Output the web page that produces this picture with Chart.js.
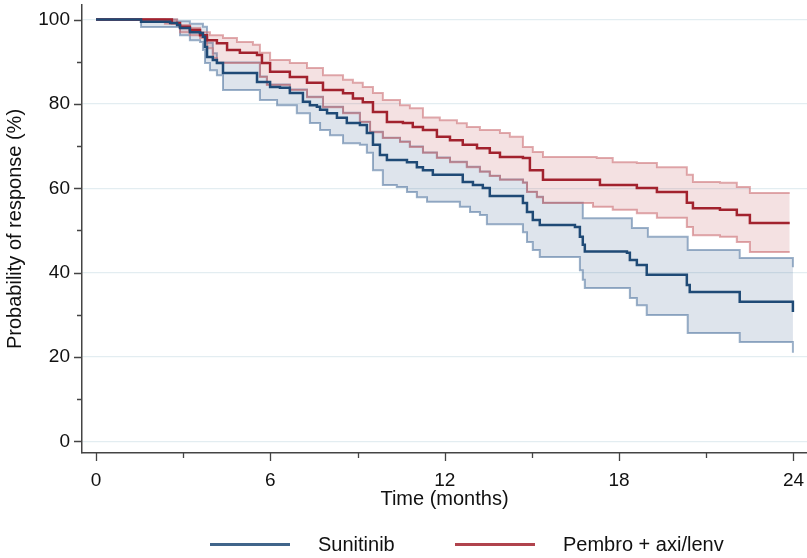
<!DOCTYPE html>
<html>
<head>
<meta charset="utf-8">
<script src="https://cdn.jsdelivr.net/npm/chart.js@4.4.1/dist/chart.umd.min.js"></script>
<style>
body { margin: 0; background: #fff; }
#wrap { position: relative; width: 807px; height: 558px; }
#legend { position: absolute; left: 0; top: 531px; width: 807px; height: 26px; font: 20px "Liberation Sans", Arial, sans-serif; color: #111; }
.item { position: absolute; top: 0; height: 26px; display: flex; align-items: center; }
.swatch { width: 80px; height: 3px; margin-right: 28px; }
</style>
</head>
<body>
<div id="wrap">
  <canvas id="km" width="807" height="558"></canvas>
  <div id="legend"></div>
</div>
<script>
// tick values
const xMajor = [0, 6, 12, 18, 24];
const xMinor = [3, 9, 15, 21];
const yMajor = [0, 20, 40, 60, 80, 100];
const yMinor = [10, 30, 50, 70, 90];

// Sunitinib: survival estimate and 95% CI
const sunTime = [0, 1.55, 2.55, 2.79, 2.89, 3.23, 3.58, 3.68, 3.75, 3.82, 4.02, 4.16, 4.37, 5.54, 5.99, 6.33, 6.67, 7.12, 7.36, 7.6, 7.71, 7.95, 8.29, 8.63, 9.08, 9.32, 9.53, 9.77, 10.01, 10.7, 11.04, 11.25, 11.59, 12.62, 12.97, 13.31, 13.55, 14.69, 14.83, 15.03, 15.27, 16.48, 16.65, 16.75, 16.82, 18.27, 18.37, 18.61, 18.95, 20.33, 20.43, 22.15, 23.98];
const sunSurv = [100, 99.5, 99.2, 98.7, 98.0, 97.0, 96.8, 95.9, 93.5, 91.1, 90.4, 89.7, 87.3, 85.2, 84.0, 83.8, 82.6, 80.5, 79.7, 79.3, 78.6, 77.8, 76.7, 75.5, 75.0, 73.1, 70.3, 67.9, 66.7, 66.2, 65.0, 64.3, 63.2, 61.5, 60.8, 60.1, 58.2, 56.5, 54.4, 52.5, 51.3, 50.8, 48.5, 46.6, 45.0, 44.7, 43.0, 41.8, 39.5, 37.1, 35.4, 33.1, 30.7];
const sunUpTime = [0, 2.79, 3.23, 3.68, 3.82, 4.02, 4.16, 5.64, 5.88, 6.67, 7.26, 7.81, 8.5, 9.08, 9.43, 9.87, 10.46, 10.8, 11.25, 11.73, 12.18, 12.76, 13.21, 13.55, 13.9, 14.69, 14.83, 15.17, 15.38, 16.75, 18.44, 18.99, 20.36, 22.15, 23.98];
const sunUp = [100, 99.6, 99.0, 98.3, 94.5, 92.0, 89.8, 86.5, 84.6, 83.4, 81.7, 79.3, 77.9, 75.8, 73.4, 72.0, 71.1, 69.9, 68.5, 67.3, 66.3, 65.1, 64.0, 63.0, 62.1, 61.4, 59.2, 58.0, 56.6, 52.9, 50.6, 48.5, 45.4, 43.5, 41.3];
const sunLoTime = [0, 1.55, 2.89, 3.23, 3.58, 3.68, 3.75, 3.92, 4.16, 4.37, 5.64, 6.23, 6.91, 7.36, 7.71, 8.05, 8.5, 9.08, 9.32, 9.53, 9.87, 10.35, 10.7, 11.04, 11.39, 12.52, 12.87, 13.21, 13.45, 14.69, 14.83, 15.03, 15.27, 16.65, 16.75, 16.82, 18.37, 18.61, 18.95, 20.36, 22.15, 23.98];
const sunLo = [100, 98.2, 96.3, 95.1, 94.7, 92.8, 89.7, 88.0, 86.8, 83.3, 80.9, 79.7, 77.8, 75.5, 73.8, 72.6, 70.7, 70.3, 68.4, 64.3, 60.8, 60.3, 59.1, 57.9, 56.8, 55.6, 54.4, 53.7, 51.5, 49.6, 47.3, 45.4, 43.7, 40.6, 38.3, 36.4, 34.0, 32.3, 30.0, 25.7, 23.6, 21.0];

// Pembro + axi/lenv: survival estimate and 95% CI
const pemTime = [0, 2.61, 2.89, 3.23, 3.58, 3.82, 4.16, 4.51, 4.95, 5.54, 5.71, 5.99, 6.67, 7.26, 7.81, 8.5, 8.84, 9.18, 9.53, 10.01, 10.56, 10.9, 11.25, 11.73, 12.18, 12.62, 13.11, 13.55, 13.9, 14.69, 14.93, 15.38, 17.34, 18.61, 19.3, 20.33, 20.54, 21.47, 22.05, 22.5, 23.87];
const pemSurv = [100, 99.2, 98.3, 97.5, 96.3, 95.1, 94.4, 92.8, 92.1, 91.6, 89.7, 87.6, 86.4, 85.0, 83.3, 82.5, 81.3, 80.4, 78.1, 75.7, 75.5, 74.5, 73.8, 72.2, 71.4, 70.3, 69.5, 68.4, 67.4, 67.2, 64.3, 62.0, 60.8, 60.1, 59.1, 56.6, 55.3, 54.9, 53.7, 51.8, 51.8];
const pemUpTime = [0, 2.79, 3.23, 3.58, 3.92, 4.37, 4.85, 5.4, 5.64, 5.99, 6.67, 7.26, 7.81, 8.5, 8.84, 9.18, 9.53, 9.87, 10.46, 10.8, 11.25, 11.83, 12.42, 12.76, 13.21, 13.9, 14.24, 14.69, 15.03, 15.38, 17.23, 17.78, 18.61, 19.3, 20.33, 20.54, 21.47, 22.05, 22.5, 23.87];
const pemUp = [100, 98.7, 98.0, 97.0, 96.3, 95.6, 94.7, 94.0, 92.1, 90.4, 89.7, 88.5, 86.8, 85.7, 85.0, 84.0, 82.6, 80.9, 79.7, 79.0, 76.8, 76.1, 75.4, 74.5, 73.8, 73.1, 72.2, 69.8, 68.6, 67.4, 67.2, 66.2, 66.0, 65.0, 63.2, 61.5, 61.3, 60.3, 58.9, 58.9];
const pemLoTime = [0, 2.37, 2.89, 3.23, 3.58, 3.82, 4.02, 4.16, 5.64, 5.88, 6.67, 7.26, 7.81, 8.5, 9.08, 9.43, 9.87, 10.46, 10.8, 11.25, 11.73, 12.18, 12.76, 13.21, 13.55, 13.9, 14.69, 14.83, 15.17, 15.38, 17.1, 17.78, 18.61, 19.3, 20.33, 20.54, 21.47, 22.05, 22.5, 23.87];
const pemLo = [100, 99.0, 97.0, 96.3, 95.6, 93.2, 90.9, 89.7, 86.4, 84.5, 83.3, 81.6, 79.2, 77.8, 75.7, 73.3, 71.9, 71.0, 69.8, 68.4, 67.2, 66.2, 65.0, 63.9, 62.9, 62.0, 61.3, 59.1, 57.9, 56.5, 55.6, 54.9, 54.1, 53.0, 50.8, 48.9, 48.5, 47.3, 44.9, 44.9];

const groups = ['Sunitinib', 'Pembro + axi/lenv'];
const lineColors = ['#1f4a76', '#a2222e'];
const ciColors = ['rgba(90,125,165,0.6)', 'rgba(205,115,120,0.6)'];
const bandColors = ['rgba(31,73,125,0.15)', 'rgba(175,40,50,0.14)'];

const pts = (ts, vs) => ts.map((t, i) => ({ x: t, y: vs[i] }));
const FONT = '"Liberation Sans", Arial, sans-serif';

// band edges: pembro band sits over the sunitinib band
function ci(label, data, g, fill) {
  return { label, data, stepped: true, borderColor: ciColors[g], borderWidth: 2,
    pointRadius: 0, fill: fill ? '+1' : false, backgroundColor: bandColors[g], order: g === 0 ? 2 : 1 };
}

const datasets = [
  ci('sun up', pts(sunUpTime, sunUp), 0, true),
  ci('sun lo', pts(sunLoTime, sunLo), 0, false),
  ci('pem up', pts(pemUpTime, pemUp), 1, true),
  ci('pem lo', pts(pemLoTime, pemLo), 1, false),
  { label: groups[0], data: pts(sunTime, sunSurv), stepped: true, borderColor: lineColors[0], borderWidth: 2.5, pointRadius: 0, fill: false, order: 0 },
  { label: groups[1], data: pts(pemTime, pemSurv), stepped: true, borderColor: lineColors[1], borderWidth: 2.5, pointRadius: 0, fill: false, order: 0 }
];

// outward tick marks, long for labelled ticks, short for the others
const tickMarks = {
  id: 'tickMarks',
  afterDraw(chart) {
    const { ctx, chartArea: a, scales: { x, y } } = chart;
    ctx.save();
    ctx.strokeStyle = '#444';
    ctx.lineWidth = 1.3;
    ctx.beginPath();
    xMajor.concat(xMinor).forEach(v => {
      const px = Math.round(x.getPixelForValue(v)) + 0.5;
      ctx.moveTo(px, a.bottom); ctx.lineTo(px, a.bottom + (xMajor.includes(v) ? 8 : 5));
    });
    yMajor.concat(yMinor).forEach(v => {
      const py = Math.round(y.getPixelForValue(v)) + 0.5;
      ctx.moveTo(a.left, py); ctx.lineTo(a.left - (yMajor.includes(v) ? 8 : 5), py);
    });
    ctx.stroke();
    ctx.restore();
  }
};

new Chart(document.getElementById('km'), {
  type: 'line',
  data: { datasets },
  plugins: [tickMarks],
  options: {
    responsive: false,
    animation: false,
    devicePixelRatio: 1,
    layout: { padding: { top: 5, right: 0, bottom: 47, left: 0 } },
    plugins: { legend: { display: false }, tooltip: { enabled: false } },
    scales: {
      x: {
        type: 'linear', min: -0.482, max: 24.465,
        afterBuildTicks: s => { s.ticks = xMajor.concat(xMinor).map(v => ({ value: v })); },
        afterFit: s => { s.height = 58; s.paddingLeft = 0; s.paddingRight = 0; },
        grid: { display: false, drawTicks: false },
        border: { display: true, color: '#444', width: 1.5 },
        ticks: { autoSkip: false, maxRotation: 0, padding: 16, color: '#111',
          font: { family: FONT, size: 19 },
          callback: v => xMajor.includes(v) ? String(v) : '' },
        title: { display: true, text: 'Time (months)', color: '#111',
          font: { family: FONT, size: 20 }, padding: { top: 0, bottom: 0 } }
      },
      y: {
        type: 'linear', min: -2.73, max: 103.44,
        afterBuildTicks: s => { s.ticks = yMajor.concat(yMinor).map(v => ({ value: v })); },
        afterFit: s => { s.width = 82; s.paddingTop = 0; s.paddingBottom = 0; },
        grid: { drawTicks: false, lineWidth: 1.2,
          color: c => (c.tick && yMajor.includes(c.tick.value)) ? '#e3edf1' : 'rgba(0,0,0,0)' },
        border: { display: true, color: '#444', width: 1.5 },
        ticks: { autoSkip: false, padding: 12, color: '#111',
          font: { family: FONT, size: 19 },
          callback: v => yMajor.includes(v) ? String(v) : '' },
        title: { display: true, text: 'Probability of response (%)', color: '#111',
          font: { family: FONT, size: 20 }, padding: { top: 3, bottom: 0 } }
      }
    }
  }
});

// legend built from the two groups
const legend = document.getElementById('legend');
const legendLeft = [210, 455];
groups.forEach((g, i) => {
  const item = document.createElement('div');
  item.className = 'item';
  item.style.left = legendLeft[i] + 'px';
  item.innerHTML = `<span class="swatch" style="background:${lineColors[i]};opacity:0.85"></span><span>${g}</span>`;
  legend.appendChild(item);
});
</script>
</body>
</html>
